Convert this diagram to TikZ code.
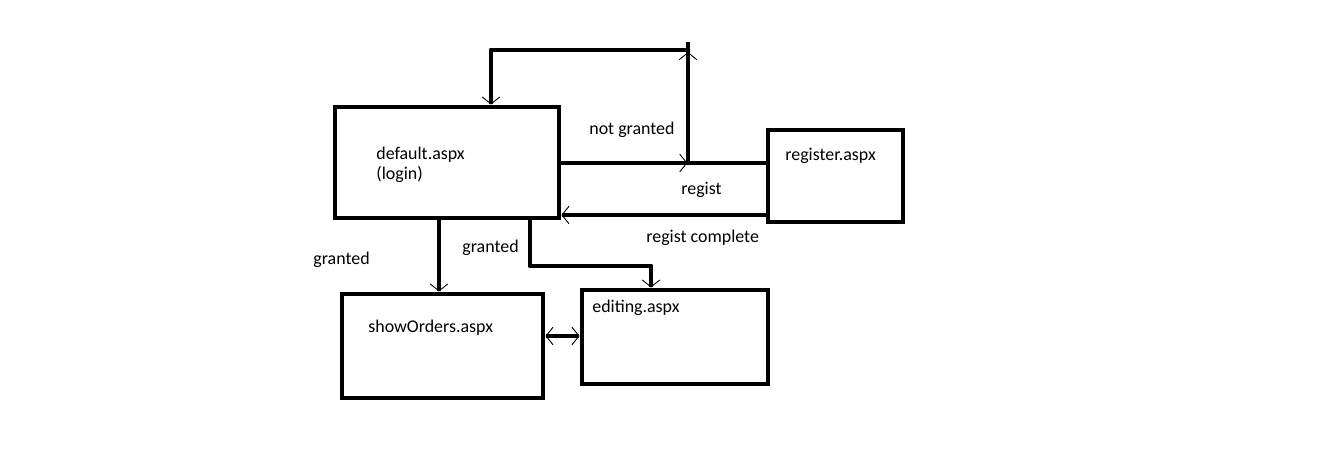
\documentclass[tikz,border=0pt]{standalone}
\usepackage{fontspec}
\setmainfont{Carlito}
\usetikzlibrary{arrows.meta,decorations.markings}

\begin{document}
\begin{tikzpicture}[
    x=0.02cm, y=-0.02cm,
    page/.style={rectangle, draw, line width=2.8pt, inner sep=0pt},
    txt/.style={anchor=base west, inner sep=0pt, font=\fontsize{10.2}{12}\selectfont},
    wire/.style={line width=2.8pt, line join=round},
    midtip/.style={postaction={decorate}, decoration={markings, mark=at position #1 with {\arrow{>}}}},
    >={Straight Barb[length=4pt, width=10pt, line width=0.5pt]}
]
\useasboundingbox[fill=white] (0,0) rectangle (1330,455);

% -------- Pages --------
\node[page, minimum width=4.48cm, minimum height=2.22cm] (default) at (447,162.5) {};
\node[page, minimum width=2.7cm, minimum height=1.84cm] (register) at (835.5,176) {};
\node[page, minimum width=4.02cm, minimum height=2.08cm] (showorders) at (442.5,346) {};
\node[page, minimum width=3.72cm, minimum height=1.88cm] (editing) at (675,337) {};

\node[txt] (defaultname) at (376,160) {default.aspx};
\node[txt] (defaultlogin) at (376,180) {(login)};
\node[txt] (registername) at (785,161) {register.aspx};
\node[txt] (showordersname) at (368,333) {showOrders.aspx};
\node[txt] (editingname) at (592,313) {editing.aspx};

% -------- Labels --------
\node[txt] (notgranted) at (589,135) {not granted};
\node[txt] (regist) at (681,195) {regist};
\node[txt] (registdone) at (646,243) {regist complete};
\node[txt] (grantedleft) at (313,265) {granted};
\node[txt] (grantedright) at (462,253) {granted};

% -------- Bends --------
\coordinate (ngjoin) at (688,163);
\coordinate (ngtop) at (688,42);
\coordinate (ngcorner) at (491,50);
\coordinate (backy) at (0,215);
\coordinate (grantx) at (439,0);
\coordinate (editbend) at (530,266);
\coordinate (editdrop) at (651,266);
\coordinate (swapy) at (0,336);

% -------- Arrows --------
\draw[wire, midtip=0.617] (default.east |- ngjoin) -- (register.west |- ngjoin);
\draw[wire, midtip=0.917] (ngjoin) -- (ngtop);
\draw[wire, ->] (ngtop |- ngcorner) -- (ngcorner) -- (ngcorner |- default.north);
\draw[wire, ->] (register.west |- backy) -- (default.east |- backy);
\draw[wire, ->] (grantx |- default.south) -- (grantx |- showorders.north);
\draw[wire, ->] (editbend |- default.south) -- (editbend) -- (editdrop) -- (editdrop |- editing.north);
\draw[wire, <->] (showorders.east |- swapy) -- (editing.west |- swapy);

\end{tikzpicture}
\end{document}
